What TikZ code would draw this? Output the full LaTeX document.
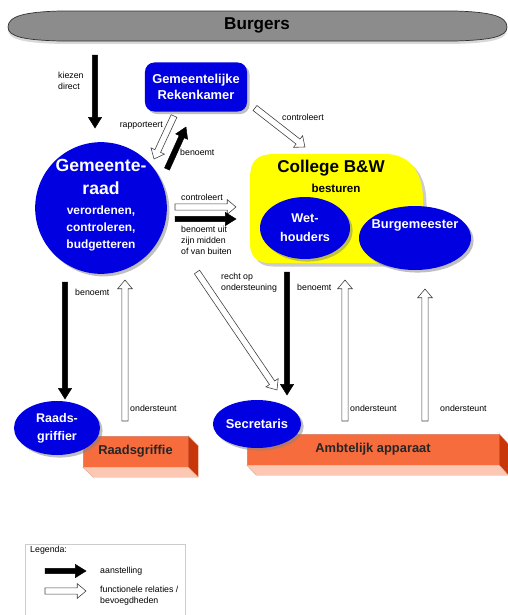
\documentclass[tikz,border=0pt]{standalone}
\usepackage{fontspec}
\setmainfont{Liberation Sans}
\usetikzlibrary{calc,shapes.geometric,shadows}

\definecolor{raadblauw}{RGB}{0,0,225}
\definecolor{geel}{RGB}{255,255,0}
\definecolor{oranje}{RGB}{247,108,60}
\definecolor{oranjedonker}{RGB}{200,55,10}
\definecolor{oranjelicht}{RGB}{252,200,180}
\definecolor{burgergrijs}{RGB}{140,140,140}

% blokpijl: stijl, halve schacht, halve kop, koplengte, van, naar
\newcommand{\blokpijl}[6]
{
	\draw[#1] let \p1=($(#6)-(#5)$), \n1={atan2(\y1,\x1)}, \n2={veclen(\x1,\y1)} in
		[shift={(#5)}, rotate=\n1] (0pt,-#2) -- (\n2-#4,-#2) -- (\n2-#4,-#3) -- ({\n2*1pt},0pt)
		-- (\n2-#4,#3) -- (\n2-#4,#2) -- (0pt,#2) -- cycle;
}
\newcommand{\zwartepijl}[2]{\blokpijl{fill=black}{2.3pt}{5.6pt}{9pt}{#1}{#2}}
\newcommand{\holpijl}[2]{\blokpijl{fill=white,draw=black!75,line width=0.5pt}{2.7pt}{6.3pt}{7.5pt}{#1}{#2}}

\begin{document}
\begin{tikzpicture}[x=0.03cm,y=-0.03cm,
	blauw/.style={fill=raadblauw,text=white,align=center,inner sep=0pt,
		drop shadow={shadow xshift=2.2pt,shadow yshift=-2.2pt,fill=black!50}},
	ovaal/.style={blauw,ellipse},
	klein/.style={font=\fontsize{7.5}{9.5}\selectfont,align=left,inner sep=0pt,anchor=west},
	blok/.style={fill=oranje,draw=oranjedonker!60,line width=0.3pt,text=black!85,
		font=\bfseries\fontsize{11}{13}\selectfont,inner sep=0pt}]
	\useasboundingbox (0,0) rectangle (508,615);

	% burgers
	\filldraw[fill=burgergrijs,draw=black!80,line width=0.6pt,
		drop shadow={shadow xshift=0pt,shadow yshift=-2.5pt,fill=black!30}]
		(8,27) .. controls (8,16) and (25,12) .. (60,11) -- (455,11) .. controls (490,12) and (507,16) .. (507,27)
		.. controls (507,37) and (490,40) .. (455,41) -- (60,41) .. controls (25,40) and (8,37) .. (8,27) -- cycle;
	\node[font=\bfseries\fontsize{14.6}{17}\selectfont] (burgers) at (257,25) {Burgers};

	% college
	\fill[geel,drop shadow={shadow xshift=3pt,shadow yshift=-3pt,fill=black!40}]
		(250,178) .. controls (250,161) and (257,154) .. (274,154) -- (385,154)
		.. controls (412,154) and (423,175) .. (423,200) -- (423,250) .. controls (423,259) and (419,263) .. (410,263)
		-- (270,263) .. controls (256,263) and (250,256) .. (250,243) -- cycle;
	\node[font=\bfseries\fontsize{14.6}{17}\selectfont] (college) at (331,168) {College B\&W};
	\node[font=\bfseries\fontsize{9.9}{12}\selectfont] (besturen) at (336,188) {besturen};

	% organen
	\node[blauw,rounded corners=8pt,minimum width=3.06cm,minimum height=1.47cm,
		font=\bfseries\fontsize{11}{14}\selectfont] (rekenkamer) at (196,87) {Gemeentelijke\\Rekenkamer};
	\node[blauw,circle,minimum size=3.95cm] (raad) at (101,208) {};
	\node[text=white,align=center,font=\bfseries\fontsize{15}{19.5}\selectfont] (raadnaam) at (101,177) {Gemeente-\\raad};
	\node[text=white,align=center,font=\bfseries\fontsize{10.2}{14.5}\selectfont] (raadtaak) at (101,228) {verordenen,\\controleren,\\budgetteren};
	\node[ovaal,minimum width=2.7cm,minimum height=1.86cm,
		font=\bfseries\fontsize{10.8}{16}\selectfont] (wethouders) at (305,228) {Wet-\\houders};
	\node[ovaal,minimum width=3.36cm,minimum height=1.92cm,
		font=\bfseries\fontsize{11}{13}\selectfont] (burgemeester) at (415,238) {};
	\node[text=white,font=\bfseries\fontsize{11}{13}\selectfont] (burgemeestertekst) at (415,225) {Burgemeester};

	% apparaat
	\node[blok,minimum width=3.15cm,minimum height=0.93cm] (griffie) at (135.5,451.5) {Raadsgriffie};
	\filldraw[fill=oranjedonker,draw=oranjedonker!60,line width=0.3pt] (griffie.north east) -- ++(10,10) -- ++(0,31) -- (griffie.south east) -- cycle;
	\filldraw[fill=oranjelicht,draw=oranjedonker!50,line width=0.3pt] (griffie.south west) -- (griffie.south east) -- ++(10,10) -- ++(-105,0) -- cycle;
	\node[blok,minimum width=7.56cm,minimum height=0.93cm] (apparaat) at (373,449.5) {Ambtelijk apparaat};
	\filldraw[fill=oranjedonker,draw=oranjedonker!60,line width=0.3pt] (apparaat.north east) -- ++(9,10) -- ++(0,31) -- (apparaat.south east) -- cycle;
	\filldraw[fill=oranjelicht,draw=oranjedonker!50,line width=0.3pt] (apparaat.south west) -- (apparaat.south east) -- ++(9,10) -- ++(-252,0) -- cycle;
	\node[ovaal,minimum width=2.58cm,minimum height=1.62cm,
		font=\bfseries\fontsize{10.7}{15.3}\selectfont] (griffier) at (57,428) {Raads-\\griffier};
	\node[ovaal,minimum width=2.58cm,minimum height=1.44cm,
		font=\bfseries\fontsize{11}{13}\selectfont] (secretaris) at (257,424) {Secretaris};

	% eindpunten
	\coordinate (kiezenA) at (95,55);    \coordinate (kiezenB) at (95,128);
	\coordinate (rapA) at (174,116);     \coordinate (rapB) at (154,159);
	\coordinate (benA) at (167,169);     \coordinate (benB) at (186,127);
	\coordinate (contA) at (255,108);    \coordinate (contB) at (305,147);
	\coordinate (ctlA) at (175,207);     \coordinate (ctlB) at (236,207);
	\coordinate (bnmA) at (175,219);     \coordinate (bnmB) at (236,219);
	\coordinate (rechtA) at (197,272);   \coordinate (rechtB) at (277,390);
	\coordinate (secrA) at (287,272);    \coordinate (secrB) at (287,395);
	\coordinate (grifA) at (65,282);     \coordinate (grifB) at (65,399);
	\coordinate (ond1A) at (125,421);    \coordinate (ond1B) at (125,280);
	\coordinate (ond2A) at (345,421);    \coordinate (ond2B) at (345,280);
	\coordinate (ond3A) at (425,421);    \coordinate (ond3B) at (425,289);

	\zwartepijl{kiezenA}{kiezenB}
	\holpijl{rapA}{rapB}
	\zwartepijl{benA}{benB}
	\holpijl{contA}{contB}
	\holpijl{ctlA}{ctlB}
	\zwartepijl{bnmA}{bnmB}
	\holpijl{rechtA}{rechtB}
	\zwartepijl{secrA}{secrB}
	\zwartepijl{grifA}{grifB}
	\holpijl{ond1A}{ond1B}
	\holpijl{ond2A}{ond2B}
	\holpijl{ond3A}{ond3B}

	% labels
	\node[klein] (kiezen) at (58,81) {kiezen\\direct};
	\node[klein,anchor=east] (rapporteert) at (163,126) {rapporteert};
	\node[klein] (benoemtrk) at (180,152) {benoemt};
	\node[klein] (controleertrk) at (282,117) {controleert};
	\node[klein] (controleert) at (181,197) {controleert};
	\node[klein] (benoemtuit) at (181,240) {benoemt uit\\zijn midden\\of van buiten};
	\node[klein] (recht) at (221,283) {recht op\\ondersteuning};
	\node[klein] (benoemtsecr) at (297,287) {benoemt};
	\node[klein] (benoemtgrif) at (75,292) {benoemt};
	\node[klein] (ond1) at (130,408) {ondersteunt};
	\node[klein] (ond2) at (350,408) {ondersteunt};
	\node[klein] (ond3) at (440,408) {ondersteunt};

	% legenda
	\draw[black!20] (25,615) -- (25,544) -- (185,544) -- (185,615);
	\node[klein] (legenda) at (30,550) {Legenda:};
	\coordinate (legZA) at (45,571);     \coordinate (legZB) at (86,571);
	\coordinate (legHA) at (45,591);     \coordinate (legHB) at (86,591);
	\zwartepijl{legZA}{legZB}
	\holpijl{legHA}{legHB}
	\node[klein] (aanstelling) at (100,571) {aanstelling};
	\node[klein] (functioneel) at (100,596) {functionele relaties /\\bevoegdheden};
\end{tikzpicture}
\end{document}
